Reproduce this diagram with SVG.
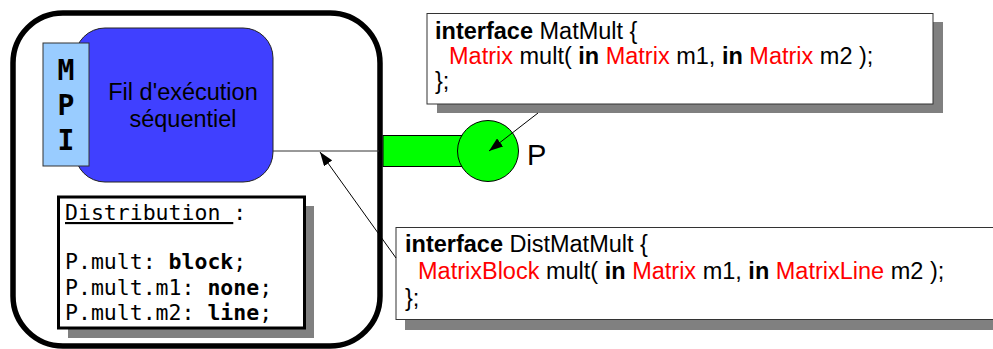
<svg xmlns="http://www.w3.org/2000/svg" width="993" height="349" viewBox="0 0 993 349">
<style>
.sans{font-family:"Liberation Sans",Arial,sans-serif;}
.mono{font-family:"DejaVu Sans Mono","Liberation Mono",monospace;}
.b{font-weight:bold}
.red{fill:#ff0000}
.shadow{fill:#808080}
.box{fill:#fff;stroke:#333;stroke-width:1}
.code{font-family:"Liberation Sans",Arial,sans-serif;font-size:23.5px;fill:#000}
.conn{stroke:#000;stroke-width:1;fill:none}
</style>
<defs>
<marker id="ah" markerWidth="14" markerHeight="10" refX="14" refY="5" orient="auto" markerUnits="userSpaceOnUse"><path d="M0,0 L14,5 L0,10 z" fill="#000"/></marker>
</defs>
<rect width="993" height="349" fill="#fff"/>

<g id="process">
<rect x="13" y="13" width="367" height="333" rx="50" fill="#fff" stroke="#000" stroke-width="5.5"/>
</g>

<g id="thread">
<rect x="75" y="28" width="198" height="154" rx="30" fill="#4040ff" stroke="#222" stroke-width="1"/>
<text class="sans" font-size="23.5" text-anchor="middle" x="183" y="100">Fil d'exécution</text>
<text class="sans" font-size="23.5" text-anchor="middle" x="183" y="127">séquentiel</text>
</g>

<g id="mpi">
<rect x="43" y="43" width="46" height="123" fill="#99ccff" stroke="#333" stroke-width="1"/>
<text class="mono b" font-size="28" text-anchor="middle" x="66" y="80">M</text>
<text class="mono b" font-size="28" text-anchor="middle" x="66" y="115">P</text>
<text class="mono b" font-size="28" text-anchor="middle" x="66" y="150">I</text>
</g>

<g id="distribution">
<rect class="shadow" x="68" y="206" width="246" height="132"/>
<rect x="58.5" y="197" width="246" height="131" fill="#fff" stroke="#000" stroke-width="3"/>
<text class="mono" font-size="21.5" x="65" y="220"><tspan text-decoration="underline">Distribution </tspan>:</text>
<text class="mono" font-size="21.5" x="65" y="269">P.mult: <tspan class="b">block</tspan>;</text>
<text class="mono" font-size="21.5" x="65" y="295">P.mult.m1: <tspan class="b">none</tspan>;</text>
<text class="mono" font-size="21.5" x="65" y="320">P.mult.m2: <tspan class="b">line</tspan>;</text>
</g>

<g id="port-P">
<rect x="383" y="135.5" width="80" height="31" fill="#00ff00" stroke="#000" stroke-width="1"/>
<circle cx="488" cy="151" r="30.5" fill="#00ff00" stroke="#000" stroke-width="1"/>
<text class="sans" font-size="29" x="527" y="165">P</text>
</g>

<g id="matmult">
<rect class="shadow" x="437" y="22" width="506" height="91"/>
<rect class="box" x="427" y="13.5" width="506" height="90.5"/>
<text class="code" x="435" y="39"><tspan class="b">interface</tspan> MatMult {</text>
<text class="code" x="449" y="64"><tspan class="red">Matrix</tspan> mult( <tspan class="b">in</tspan> <tspan class="red">Matrix</tspan> m1, <tspan class="b">in</tspan> <tspan class="red">Matrix</tspan> m2 );</text>
<text class="code" x="435" y="89">};</text>
</g>

<g id="distmatmult">
<rect class="shadow" x="405" y="236" width="600" height="94"/>
<rect class="box" x="396" y="227.5" width="610" height="92"/>
<text class="code" x="405" y="252"><tspan class="b">interface</tspan> DistMatMult {</text>
<text class="code" x="418" y="279"><tspan class="red">MatrixBlock</tspan> mult( <tspan class="b">in</tspan> <tspan class="red">Matrix</tspan> m1, <tspan class="b">in</tspan> <tspan class="red">MatrixLine</tspan> m2 );</text>
<text class="code" x="405" y="306">};</text>
</g>

<g id="connectors">
<line x1="273" y1="151" x2="379" y2="151" stroke="#333" stroke-width="1"/>
<line class="conn" x1="538" y1="113" x2="489" y2="151" marker-end="url(#ah)"/>
<line class="conn" x1="396" y1="258" x2="320" y2="152" marker-end="url(#ah)"/>
</g>
</svg>
